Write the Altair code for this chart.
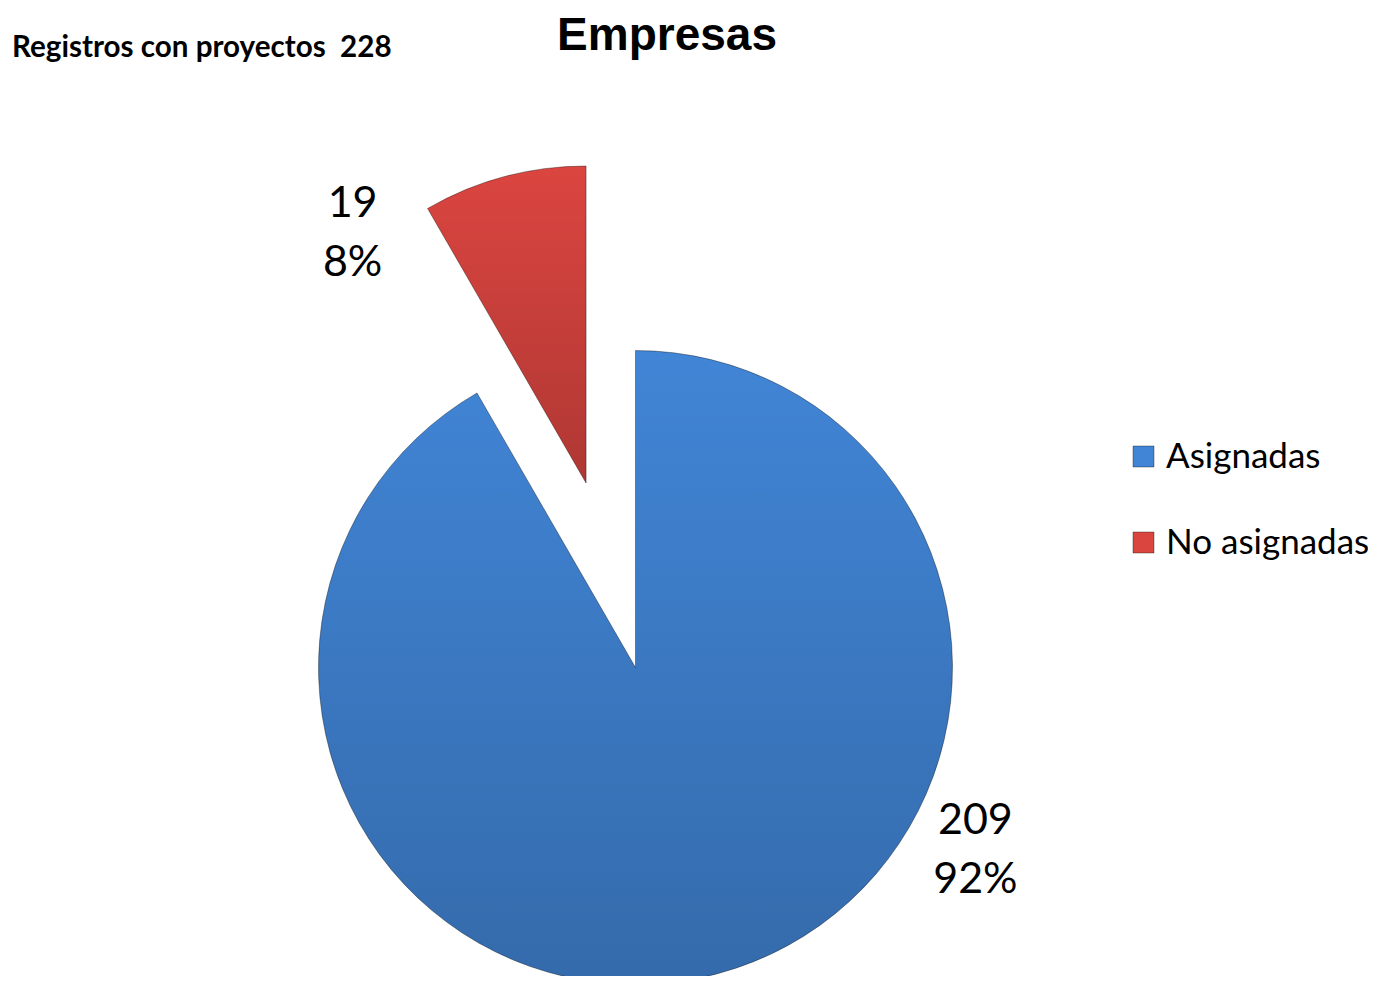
import altair as alt
import pandas as pd

# ---- data ----
categories = ["Asignadas", "No asignadas"]
values = [209, 19]
colors = ["#4185D6", "#DB4540"]
title_text = "Empresas"
note_text = "Registros con proyectos \u00a0"

df = pd.DataFrame({"category": categories, "value": values})

# ---- layout (not data) ----
W, H = 1360, 968
CX, CY, R = 627.5, 659.5, 317
EXPLODED = "No asignadas"
EXPLODE_DIST = 191
# label placement: angle (deg, clockwise from top) and distance from pie centre
LBL = {"Asignadas": (118.3, 386), "No asignadas": (326.9, 518)}
FONT = "Lato"

la_expr = f"datum.category === 'Asignadas' ? {LBL['Asignadas'][0]} : {LBL['No asignadas'][0]}"
lr_expr = f"datum.category === 'Asignadas' ? {LBL['Asignadas'][1]} : {LBL['No asignadas'][1]}"

base = (
    alt.Chart(df)
    .transform_joinaggregate(total="sum(value)")
    .transform_window(cum="sum(value)", sort=[alt.SortField("category", order="ascending")],
                      frame=[None, 0])
    .transform_calculate(
        t0="2*PI*(datum.cum - datum.value)/datum.total",
        t1="2*PI*datum.cum/datum.total",
    )
    .transform_calculate(
        mid="(datum.t0 + datum.t1)/2",
        ex=f"datum.category === '{EXPLODED}' ? {EXPLODE_DIST} : 0",
    )
    .transform_calculate(
        cx=f"{CX} + datum.ex*sin(datum.mid)",
        cy=f"{CY} - datum.ex*cos(datum.mid)",
        la=f"({la_expr})*PI/180",
        lr=lr_expr,
    )
    .transform_calculate(
        lx=f"{CX} + datum.lr*sin(datum.la)",
        ly=f"{CY} - datum.lr*cos(datum.la)",
        txt="datum.value + '\\n' + format(datum.value/datum.total, '.0%')",
    )
)

pos = dict(
    theta=alt.Theta("t0:Q", scale=None),
    theta2=alt.Theta2("t1:Q"),
    x=alt.X("cx:Q", scale=None, axis=None),
    y=alt.Y("cy:Q", scale=None, axis=None),
)

arcs = base.mark_arc(outerRadius=R).encode(
    color=alt.Color(
        "category:N",
        scale=alt.Scale(domain=categories, range=colors),
        legend=alt.Legend(
            orient="none", legendX=1118, legendY=431, title=None,
            labelFont=FONT, labelFontSize=35, labelLimit=400, labelColor="black",
            symbolType="square", symbolSize=441, symbolStrokeWidth=1,
            symbolStrokeColor="rgba(0,0,0,0.35)",
            rowPadding=50, labelOffset=5, padding=0,
        ),
    ),
    **pos,
)

shade = base.mark_arc(
    outerRadius=R,
    fill=alt.Gradient(
        gradient="linear",
        stops=[
            alt.GradientStop(color="rgba(0,0,0,0)", offset=0),
            alt.GradientStop(color="rgba(0,0,0,0.2)", offset=1),
        ],
        x1=0, y1=0, x2=0, y2=1,
    ),
    stroke="rgba(0,0,0,0.35)",
    strokeWidth=1,
).encode(**pos)

labels = base.mark_text(
    font=FONT, fontSize=43, lineBreak="\n", lineHeight=59, dy=-29.5,
    align="center", baseline="middle", color="black",
).encode(
    x=alt.X("lx:Q", scale=None, axis=None),
    y=alt.Y("ly:Q", scale=None, axis=None),
    text="txt:N",
)

note = (
    alt.Chart(df)
    .transform_aggregate(total="sum(value)")
    .transform_calculate(t=f"'{note_text}' + datum.total")
    .mark_text(font=FONT, fontSize=29.6, fontWeight="bold", align="left",
               baseline="alphabetic", color="black")
    .encode(x=alt.value(4), y=alt.value(49), text="t:N")
)

title = (
    alt.Chart(pd.DataFrame({"t": [title_text]}))
    .mark_text(font="Liberation Sans", fontSize=46, fontWeight="bold", align="center",
               baseline="alphabetic", color="black")
    .encode(x=alt.value(659), y=alt.value(42), text="t:N")
)

chart = (
    alt.layer(arcs, shade, labels, note, title)
    .properties(width=W, height=H, padding=0,
                autosize=alt.AutoSizeParams(type="none"))
    .configure_view(stroke=None)
)

chart.save("out.html", embed_options={"renderer": "svg", "actions": False})
